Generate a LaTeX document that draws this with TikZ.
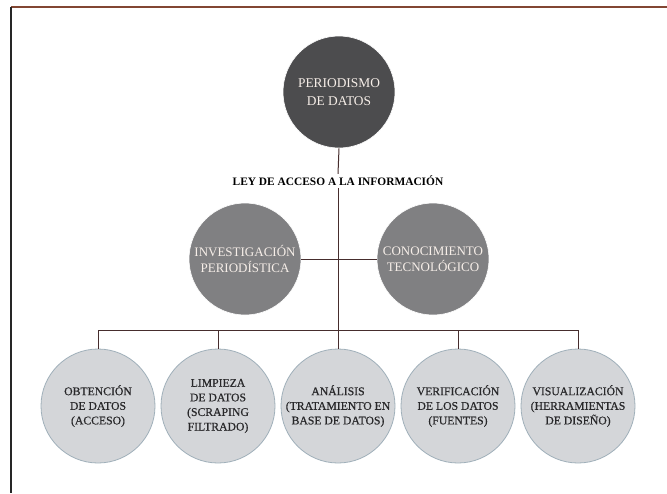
\documentclass[tikz,border=0pt]{standalone}
\usepackage{fontspec}
\setmainfont{Liberation Serif}
\newfontfamily\heavyserif{Liberation Serif}[FakeBold=0.6]
\definecolor{topfill}{RGB}{76,76,78}
\definecolor{midfill}{RGB}{128,128,130}
\definecolor{botfill}{RGB}{212,214,217}
\definecolor{botedge}{RGB}{160,176,186}
\definecolor{lighttext}{RGB}{246,238,232}
\definecolor{darktext}{RGB}{40,40,42}
\definecolor{conn}{RGB}{70,45,45}
\definecolor{frametop}{RGB}{130,70,50}
\tikzset{
  topcircle/.style={circle, fill=topfill, draw=white, line width=0.6pt, minimum size=112pt, inner sep=0pt, align=center, text=lighttext, font=\fontsize{13.4}{18}\selectfont},
  midcircle/.style={circle, fill=midfill, draw=white, line width=0.6pt, minimum size=112pt, inner sep=0pt, align=center, text=lighttext, font=\fontsize{13.0}{16}\selectfont},
  botcircle/.style={circle, fill=botfill, draw=botedge, line width=0.8pt, minimum size=114pt, inner sep=0pt, align=center, text=darktext, font=\heavyserif\fontsize{11.7}{14.6}\selectfont},
  lawlabel/.style={fill=white, inner sep=2pt, font=\fontsize{11.4}{13}\selectfont\bfseries, text=black},
  connector/.style={draw=conn, line width=1pt},
}
\begin{document}
\begin{tikzpicture}[x=1pt,y=-1pt]
\useasboundingbox (0,0) rectangle (667,493);
\fill[white] (0,0) rectangle (667,493);
% page frame
\coordinate (ftl) at (11,7);
\coordinate (ftr) at (667,7);
\coordinate (fbl) at (11,493);
\draw[frametop, line width=1.6pt] (ftl) -- (ftr);
\draw[black!85, line width=1.6pt] (ftl) -- (fbl);

% nodes
\node[topcircle] (top) at (339,92) {PERIODISMO\\DE DATOS};
\node[lawlabel] (law) at (338,181) {LEY DE ACCESO A LA INFORMACIÓN};
\coordinate (hub) at (338,330);
\coordinate (b1) at (98,330);
\coordinate (b2) at (218,330);
\coordinate (b3) at (338,330);
\coordinate (b4) at (458,330);
\coordinate (b5) at (578,330);

% connectors (behind circles)
\draw[connector] (top.south) -- (law.north);
\draw[connector] (law.south) -- (hub);
\draw[connector] (b1) -- (b5);

\node[midcircle] (inv) at (245,259) {INVESTIGACIÓN\\PERIODÍSTICA};
\node[midcircle] (con) at (433,259) {CONOCIMIENTO\\TECNOLÓGICO};
\draw[connector] (inv.east) -- (con.west);

\node[botcircle] (c1) at (98,406) {OBTENCIÓN\\DE DATOS\\(ACCESO)};
\node[botcircle] (c2) at (218,406) {LIMPIEZA\\DE DATOS\\(SCRAPING\\FILTRADO)};
\node[botcircle] (c3) at (338,406) {ANÁLISIS\\(TRATAMIENTO EN\\BASE DE DATOS)};
\node[botcircle] (c4) at (458,406) {VERIFICACIÓN\\DE LOS DATOS\\(FUENTES)};
\node[botcircle] (c5) at (578,406) {VISUALIZACIÓN\\(HERRAMIENTAS\\DE DISEÑO)};

\draw[connector] (b1) -- (c1.north);
\draw[connector] (b2) -- (c2.north);
\draw[connector] (b3) -- (c3.north);
\draw[connector] (b4) -- (c4.north);
\draw[connector] (b5) -- (c5.north);
\end{tikzpicture}
\end{document}
